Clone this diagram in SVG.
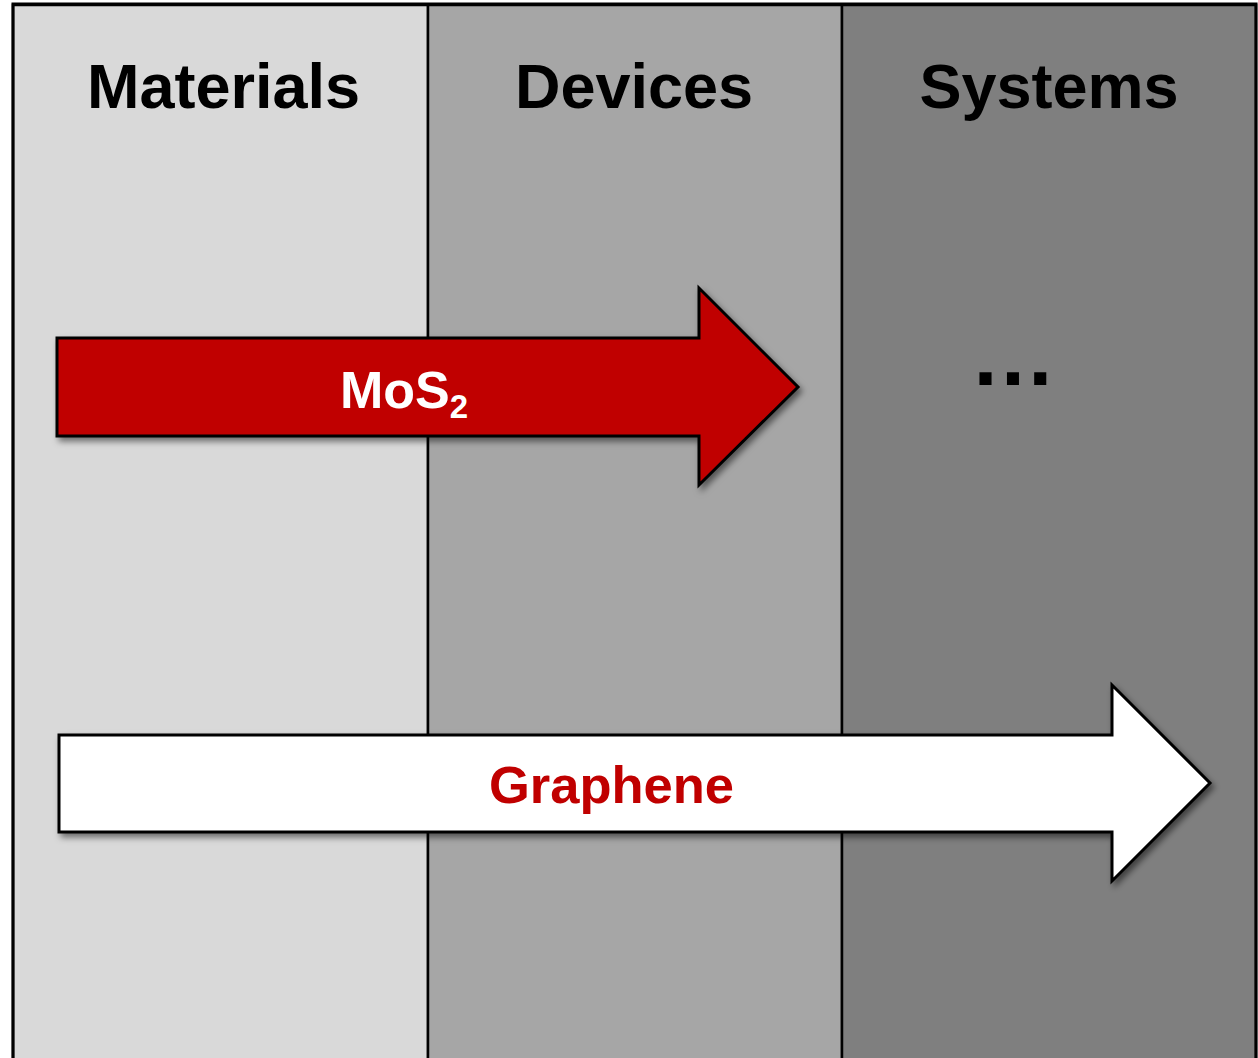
<svg xmlns="http://www.w3.org/2000/svg" width="1258" height="1058" viewBox="0 0 1258 1058">
<style>
.col{stroke:#000;stroke-width:2.5}
.hdr{font-family:"Liberation Sans",Arial,sans-serif;font-weight:bold;font-size:63px;fill:#000;text-anchor:middle}
.arrow{stroke:#000;stroke-width:3;stroke-linejoin:miter;filter:url(#shadow)}
.lbl{font-family:"Liberation Sans",Arial,sans-serif;font-weight:bold;text-anchor:middle}
</style>
<defs>
<filter id="shadow" x="-10%" y="-20%" width="120%" height="140%">
<feDropShadow dx="3" dy="4" stdDeviation="3" flood-color="#000" flood-opacity="0.5"/>
</filter>
</defs>
<rect width="1258" height="1058" fill="#fff"/>
<g id="materials">
<rect class="col" x="13" y="5" width="415" height="1060" fill="#D9D9D9"/>
<text class="hdr" x="223.500" y="108">Materials</text>
</g>
<g id="devices">
<rect class="col" x="428" y="5" width="414" height="1060" fill="#A6A6A6"/>
<text class="hdr" x="634" y="108">Devices</text>
</g>
<g id="systems">
<rect class="col" x="842" y="5" width="414" height="1060" fill="#7F7F7F"/>
<text class="hdr" x="1049" y="108">Systems</text>
<text class="lbl" x="1013" y="385" font-size="86" fill="#000">…</text>
</g>
<rect x="13" y="4" width="1243" height="1070" fill="none" stroke="#000" stroke-width="3"/>
<g id="connectors">
<g id="mos2">
<path class="arrow" fill="#C00000" d="M57,338 H699 V288 L798,387 L699,485 V436 H57 Z"/>
<text class="lbl" x="404" y="408" font-size="52" fill="#fff">MoS<tspan font-size="33" dy="10">2</tspan></text>
</g>
<g id="graphene">
<path class="arrow" fill="#fff" d="M59,735 H1112 V685 L1210,783 L1112,881 V832 H59 Z"/>
<text class="lbl" x="611.500" y="803" font-size="52.500" fill="#C00000">Graphene</text>
</g>
</g>
</svg>
